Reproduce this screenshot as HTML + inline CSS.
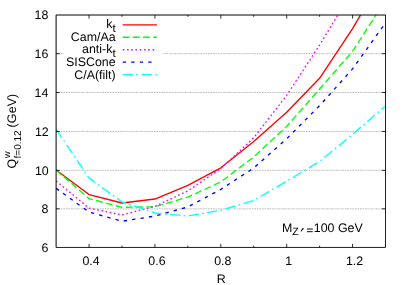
<!DOCTYPE html>
<html><head><meta charset="utf-8"><title>plot</title>
<style>
html,body{margin:0;padding:0;background:#fff;}
body{width:407px;height:285px;overflow:hidden;}
svg{display:block;will-change:transform;}
text{font-family:"Liberation Sans",sans-serif;fill:#000;text-rendering:geometricPrecision;}
</style></head><body>
<svg width="407" height="285" viewBox="0 0 407 285">
<rect x="0" y="0" width="407" height="285" fill="#fff"/>
<defs><clipPath id="c"><rect x="56.1" y="15.0" width="329.40" height="232.45"/></clipPath></defs>
<g stroke="#a8a8a8" stroke-width="0.85" stroke-dasharray="1 0.5 1 0.5 1 0.9" fill="none">
<line x1="56.1" y1="208.85" x2="385.5" y2="208.85"/>
<line x1="56.1" y1="170.35" x2="385.5" y2="170.35"/>
<line x1="56.1" y1="131.45" x2="385.5" y2="131.45"/>
<line x1="56.1" y1="92.50" x2="385.5" y2="92.50"/>
<line x1="56.1" y1="53.65" x2="385.5" y2="53.65"/>
</g>
<g clip-path="url(#c)" fill="none" stroke-linejoin="round">
<polyline points="56.10,169.97 89.04,194.57 121.98,202.99 154.92,199.02 187.86,185.46 220.80,167.84 253.74,141.49 286.68,112.24 319.62,78.34 352.56,28.56 385.50,-27.62" stroke="#ff0000" stroke-width="1.35"/>
<polyline points="56.10,169.97 89.04,198.64 121.98,207.35 154.92,206.77 187.86,197.09 220.80,181.98 253.74,156.99 286.68,126.38 319.62,89.00 352.56,51.42 385.50,0.08" stroke="#00ff00" stroke-width="1.35" stroke-dasharray="6.80 3.40"/>
<polyline points="56.10,181.01 89.04,208.13 121.98,214.91 154.92,206.38 187.86,190.89 220.80,168.61 253.74,137.81 286.68,95.39 319.62,45.02 352.56,-9.41 385.50,-62.48" stroke="#ff00ff" stroke-width="1.35" stroke-dasharray="1.70 2.55"/>
<polyline points="56.10,188.37 89.04,212.00 121.98,221.30 154.92,216.07 187.86,206.96 220.80,189.34 253.74,168.03 286.68,138.78 319.62,105.66 352.56,68.85 385.50,22.94" stroke="#0000ff" stroke-width="1.35" stroke-dasharray="3.40 5.10"/>
<polyline points="56.10,129.29 89.04,178.10 121.98,201.93 154.92,212.97 187.86,216.07 220.80,210.26 253.74,200.57 286.68,181.20 319.62,161.44 352.56,134.32 385.50,106.04" stroke="#00ffff" stroke-width="1.35" stroke-dasharray="10.20 3.40 1.70 3.40"/>
</g>
<rect x="64" y="18" width="98.5" height="63" fill="#fff"/>
<line x1="122.7" y1="24.80" x2="156.9" y2="24.80" stroke="#ff0000" stroke-width="1.35"/>
<line x1="122.7" y1="37.25" x2="156.9" y2="37.25" stroke="#00ff00" stroke-width="1.35" stroke-dasharray="6.80 3.40"/>
<line x1="122.7" y1="49.70" x2="156.4" y2="49.70" stroke="#ff00ff" stroke-width="1.35" stroke-dasharray="1.70 2.55"/>
<line x1="122.7" y1="62.15" x2="156.4" y2="62.15" stroke="#0000ff" stroke-width="1.35" stroke-dasharray="3.40 5.10"/>
<line x1="122.7" y1="74.60" x2="156.9" y2="74.60" stroke="#00ffff" stroke-width="1.35" stroke-dasharray="10.20 3.40 1.70 3.40"/>
<text x="115.6" y="27.80" font-size="12.4" text-anchor="end">k<tspan font-size="11.5" dy="4.0">t</tspan></text>
<text x="115.6" y="41.15" font-size="12.40" text-anchor="end">Cam/Aa</text>
<text x="115.6" y="52.70" font-size="12.4" text-anchor="end">anti-k<tspan font-size="11.5" dy="4.0">t</tspan></text>
<text x="115.6" y="66.05" font-size="12.40" text-anchor="end">SISCone</text>
<text x="115.6" y="78.50" font-size="12.40" text-anchor="end">C/A(filt)</text>
<path d="M56.1 247.45 V15.0 H385.5" fill="none" stroke="#000" stroke-width="1" stroke-linejoin="miter"/>
<path d="M385.5 15.0 V247.45 H56.1" fill="none" stroke="#000" stroke-width="0.88" stroke-linejoin="miter"/>
<g stroke="#000" stroke-width="0.8" fill="none">
<line x1="89.04" y1="247.45" x2="89.04" y2="243.85"/>
<line x1="89.04" y1="15.0" x2="89.04" y2="18.60"/>
<line x1="121.98" y1="247.45" x2="121.98" y2="245.65"/>
<line x1="121.98" y1="15.0" x2="121.98" y2="16.80"/>
<line x1="154.92" y1="247.45" x2="154.92" y2="243.85"/>
<line x1="154.92" y1="15.0" x2="154.92" y2="18.60"/>
<line x1="187.86" y1="247.45" x2="187.86" y2="245.65"/>
<line x1="187.86" y1="15.0" x2="187.86" y2="16.80"/>
<line x1="220.80" y1="247.45" x2="220.80" y2="243.85"/>
<line x1="220.80" y1="15.0" x2="220.80" y2="18.60"/>
<line x1="253.74" y1="247.45" x2="253.74" y2="245.65"/>
<line x1="253.74" y1="15.0" x2="253.74" y2="16.80"/>
<line x1="286.68" y1="247.45" x2="286.68" y2="243.85"/>
<line x1="286.68" y1="15.0" x2="286.68" y2="18.60"/>
<line x1="319.62" y1="247.45" x2="319.62" y2="245.65"/>
<line x1="319.62" y1="15.0" x2="319.62" y2="16.80"/>
<line x1="352.56" y1="247.45" x2="352.56" y2="243.85"/>
<line x1="352.56" y1="15.0" x2="352.56" y2="18.60"/>
<line x1="56.1" y1="208.85" x2="59.70" y2="208.85"/>
<line x1="385.5" y1="208.85" x2="381.90" y2="208.85"/>
<line x1="56.1" y1="170.35" x2="59.70" y2="170.35"/>
<line x1="385.5" y1="170.35" x2="381.90" y2="170.35"/>
<line x1="56.1" y1="131.45" x2="59.70" y2="131.45"/>
<line x1="385.5" y1="131.45" x2="381.90" y2="131.45"/>
<line x1="56.1" y1="92.50" x2="59.70" y2="92.50"/>
<line x1="385.5" y1="92.50" x2="381.90" y2="92.50"/>
<line x1="56.1" y1="53.65" x2="59.70" y2="53.65"/>
<line x1="385.5" y1="53.65" x2="381.90" y2="53.65"/>
</g>
<text x="48.4" y="251.65" font-size="12.40" text-anchor="end">6</text>
<text x="48.4" y="212.91" font-size="12.40" text-anchor="end">8</text>
<text x="48.699999999999996" y="174.52" font-size="12.40" text-anchor="end">10</text>
<text x="48.699999999999996" y="135.78" font-size="12.40" text-anchor="end">12</text>
<text x="48.4" y="96.68" font-size="12.40" text-anchor="end">14</text>
<text x="48.4" y="57.94" font-size="12.40" text-anchor="end">16</text>
<text x="48.4" y="19.20" font-size="12.40" text-anchor="end">18</text>
<text x="91.04000000000002" y="264.50" font-size="12.40" text-anchor="middle">0.4</text>
<text x="156.92" y="264.50" font-size="12.40" text-anchor="middle">0.6</text>
<text x="222.79999999999998" y="264.50" font-size="12.40" text-anchor="middle">0.8</text>
<text x="288.67999999999995" y="264.50" font-size="12.40" text-anchor="middle">1</text>
<text x="354.55999999999995" y="264.50" font-size="12.40" text-anchor="middle">1.2</text>
<text x="221.2" y="282.50" font-size="12.40" text-anchor="middle">R</text>
<g transform="translate(16.4,168.6) rotate(-90)"><text x="0" y="0" font-size="12.4">Q</text><text x="10.6" y="-6.5" font-size="9.2">w</text><text x="10.2" y="4.1" font-size="10.0">f=0.12</text><text x="41.2" y="0" font-size="12.4" letter-spacing="0.15">(GeV)</text></g>
<text x="282.1" y="232.3" font-size="12.4">M</text><text x="292.2" y="235.4" font-size="10.5">Z</text><path d="M302.5 228.1 L304.0 228.4 L301.3 231.6 L300.6 231.3 Z" fill="#000" stroke="none"/><path d="M307.0 229.0 H312.8 M307.0 231.7 H312.8" stroke="#000" stroke-width="0.95" fill="none"/><text x="313.8" y="232.3" font-size="12.4">100 GeV</text>
</svg>
</body></html>
